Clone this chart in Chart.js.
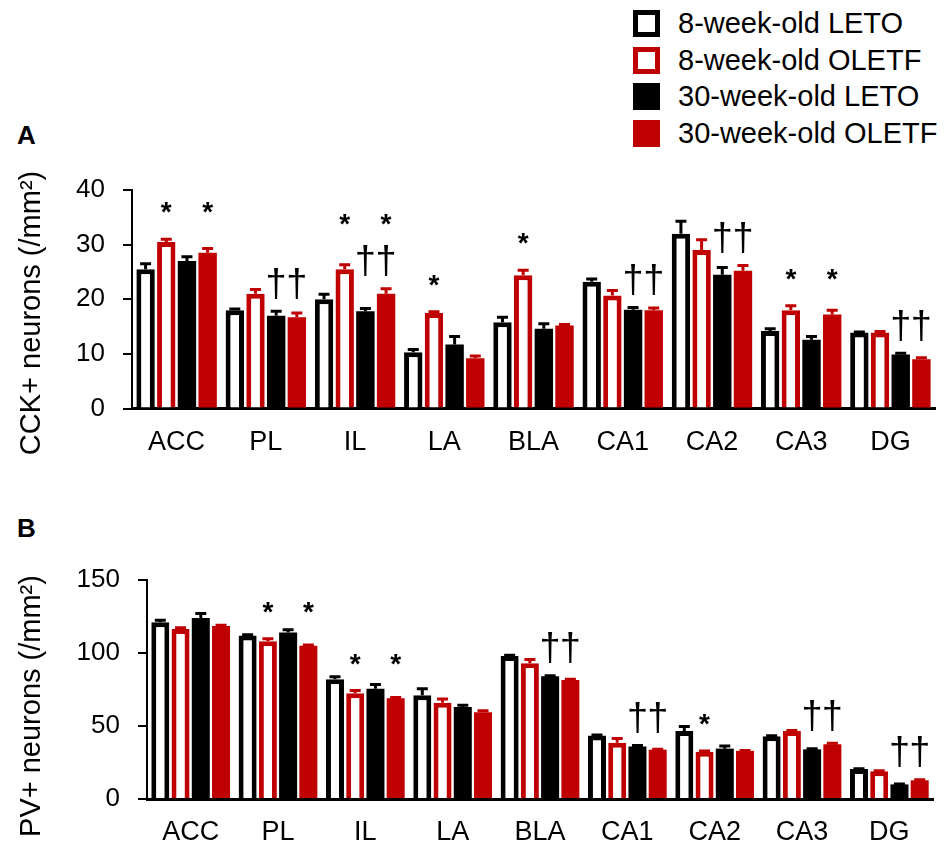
<!DOCTYPE html>
<html>
<head>
<meta charset="utf-8">
<title>CCK+ and PV+ neurons</title>
<script src="https://cdn.jsdelivr.net/npm/chart.js@4.4.0/dist/chart.umd.min.js"></script>
<style>
  body { margin: 0; width: 949px; height: 848px; overflow: hidden; background: #fff; position: relative;
         font-family: "Liberation Sans", Arial, sans-serif; color: #000; }
  #legend { position: absolute; left: 633px; top: 5px; }
  .item { display: flex; align-items: center; height: 36.7px; font-size: 29px; white-space: nowrap; }
  .box { width: 27px; height: 27px; box-sizing: border-box; margin-right: 18px; }
  .panel { position: absolute; left: 17px; font-weight: bold; font-size: 26px; line-height: 26px; }
  .wrap { position: absolute; left: 0; line-height: 0; }
</style>
</head>
<body>
<div id="legend"></div>
<div class="panel" style="top:122px">A</div>
<div class="panel" style="top:515px">B</div>
<div class="wrap" style="top:150px"><canvas id="chartA" width="949" height="320"></canvas></div>
<div class="wrap" style="top:530px"><canvas id="chartB" width="949" height="320"></canvas></div>
<script>
// regions and groups
const categories = ['ACC', 'PL', 'IL', 'LA', 'BLA', 'CA1', 'CA2', 'CA3', 'DG'];
const seriesNames = ['8-week-old LETO', '8-week-old OLETF', '30-week-old LETO', '30-week-old OLETF'];

// A: CCK+ neurons (/mm2), mean and SEM
const cckLeto8 = [25.5, 18, 20, 10.3, 15.8, 23.2, 32, 14.2, 13.9];
const cckOletf8 = [30.5, 21, 25.5, 17.5, 24.4, 20.7, 29, 18, 13.9];
const cckLeto30 = [27, 17, 17.8, 11.7, 14.6, 18.1, 24.5, 12.6, 9.9];
const cckOletf30 = [28.5, 16.7, 21, 9.2, 15.2, 18, 25.2, 17.2, 9.0];
const cckErrLeto8 = [1, 0.2, 0.9, 0.5, 0.9, 0.5, 2.3, 0.4, 0.1];
const cckErrOletf8 = [0.5, 0.8, 0.8, 0.2, 0.9, 0.9, 1.9, 0.8, 0.2];
const cckErrLeto30 = [0.8, 0.8, 0.5, 1.5, 0.9, 0.4, 1.3, 0.6, 0.2];
const cckErrOletf30 = [0.8, 0.8, 0.9, 0.4, 0.2, 0.4, 1.0, 0.8, 0.3];
const cckTicks = [0, 10, 20, 30, 40];
// significance marks per region, one string per group
const cckMarks = [
  ['', '*', '', '*'], ['', '', '†', '†'], ['', '*', '†', '*†'], ['', '*', '', ''], ['', '*', '', ''],
  ['', '', '†', '†'], ['', '', '†', '†'], ['', '*', '', '*'], ['', '', '†', '†']
];

// B: PV+ neurons (/mm2)
const pvLeto8 = [121, 112, 82, 71, 98, 43.5, 46.5, 43, 20.5];
const pvOletf8 = [116.5, 108, 72.5, 66, 93, 38.5, 32.3, 46.5, 19];
const pvLeto30 = [124, 114, 75.5, 63, 84, 36, 34.5, 34, 10];
const pvOletf30 = [118.5, 105, 69, 59.5, 81.5, 33.8, 33, 37.5, 12.8];
const pvErrLeto8 = [1.5, 0.5, 1.8, 4.5, 0.5, 0.3, 3.2, 0.3, 0.3];
const pvErrOletf8 = [0.8, 1.8, 1.8, 2.5, 2.5, 3, 0.5, 0.5, 0.3];
const pvErrLeto30 = [3, 2, 3, 1.2, 0.5, 0.7, 1.8, 0.5, 0.3];
const pvErrOletf30 = [0.5, 0.5, 0.5, 1, 0.5, 0.3, 0.3, 0.6, 0.3];
const pvTicks = [0, 50, 100, 150];
const pvMarks = [
  ['', '', '', ''], ['', '*', '', '*'], ['', '*', '', '*'], ['', '', '', ''], ['', '', '†', '†'],
  ['', '', '†', '†'], ['', '*', '', ''], ['', '', '†', '†'], ['', '', '†', '†']
];

const RED = '#c00000';
const FONT = '"Liberation Sans", Arial, sans-serif';
const styles = [
  { backgroundColor: '#fff', borderColor: '#000', borderWidth: 5 },
  { backgroundColor: '#fff', borderColor: RED, borderWidth: 5 },
  { backgroundColor: '#000', borderColor: '#000', borderWidth: 0 },
  { backgroundColor: RED, borderColor: RED, borderWidth: 0 }
];

// legend (html)
const legend = document.getElementById('legend');
seriesNames.forEach((name, i) => {
  const row = document.createElement('div');
  row.className = 'item';
  const box = document.createElement('span');
  box.className = 'box';
  box.style.background = styles[i].backgroundColor;
  box.style.border = '5px solid ' + styles[i].borderColor;
  row.appendChild(box);
  row.appendChild(document.createTextNode(name));
  legend.appendChild(row);
});

// upward error bars
const errorBars = {
  id: 'errorBars',
  afterDatasetsDraw(chart) {
    const ctx = chart.ctx, ys = chart.scales.y;
    chart.data.datasets.forEach((ds, i) => {
      chart.getDatasetMeta(i).data.forEach((bar, j) => {
        const top = ys.getPixelForValue(ds.data[j] + ds.errors[j]);
        ctx.save();
        ctx.strokeStyle = ds.borderColor;
        ctx.lineWidth = 3;
        ctx.beginPath();
        ctx.moveTo(bar.x, bar.y);
        ctx.lineTo(bar.x, top);
        ctx.moveTo(bar.x - 5.5, top);
        ctx.lineTo(bar.x + 5.5, top);
        ctx.stroke();
        ctx.restore();
      });
    });
  }
};

// * and † above bars
const sigMarks = {
  id: 'sigMarks',
  afterDatasetsDraw(chart, args, opts) {
    const ctx = chart.ctx, ys = chart.scales.y;
    const ds = chart.data.datasets;
    opts.marks.forEach((row, j) => {
      let dagY = null, starY = null;
      row.forEach((m, i) => {
        const top = ys.getPixelForValue(ds[i].data[j] + ds[i].errors[j]);
        if (m.includes('†')) dagY = Math.min(dagY === null ? Infinity : dagY, top - 26);
        if (m.includes('*')) starY = Math.min(starY === null ? Infinity : starY, top - 34);
      });
      if (dagY !== null && starY !== null) starY = Math.min(starY, dagY - 46);
      ctx.save();
      ctx.fillStyle = '#000';
      ctx.textAlign = 'center';
      row.forEach((m, i) => {
        const x = chart.getDatasetMeta(i).data[j].x;
        if (m.includes('†')) {
          ctx.font = '38px ' + FONT;
          ctx.textBaseline = 'middle';
          ctx.fillText('†', x, dagY);
        }
        if (m.includes('*')) {
          ctx.font = 'bold 28px ' + FONT;
          ctx.textBaseline = 'alphabetic';
          ctx.fillText('*', x, starY + 16);
        }
      });
      ctx.restore();
    });
  }
};

// rotated y title, placed a bit lower than the plot centre as in the figure
const sideTitle = {
  id: 'sideTitle',
  afterDraw(chart, args, opts) {
    const ctx = chart.ctx;
    ctx.save();
    ctx.translate(opts.x, opts.y);
    ctx.rotate(-Math.PI / 2);
    ctx.font = '29px ' + FONT;
    ctx.fillStyle = '#000';
    ctx.textAlign = 'center';
    ctx.textBaseline = 'middle';
    ctx.fillText(opts.text, 0, 0);
    ctx.restore();
  }
};

function makeChart(id, values, errors, marks, ticks, title, yWidth, padding, xPad) {
  new Chart(document.getElementById(id), {
    type: 'bar',
    data: {
      labels: categories,
      datasets: seriesNames.map((name, i) => Object.assign({
        label: name,
        data: values[i],
        errors: errors[i],
        categoryPercentage: 0.927,
        barPercentage: 0.89
      }, styles[i]))
    },
    options: {
      responsive: false,
      animation: false,
      devicePixelRatio: 1,
      layout: { padding: padding },
      plugins: {
        legend: { display: false },
        tooltip: { enabled: false },
        sigMarks: { marks: marks },
        sideTitle: title
      },
      scales: {
        x: {
          grid: { display: false, drawTicks: false },
          border: { display: true, color: '#000', width: 3 },
          ticks: { color: '#000', padding: xPad, font: { family: FONT, size: 27 } },
          afterFit: (s) => { s.height = 50; }
        },
        y: {
          min: ticks[0],
          max: ticks[ticks.length - 1],
          afterBuildTicks: (axis) => { axis.ticks = ticks.map(v => ({ value: v })); },
          grid: { drawOnChartArea: false, drawTicks: true, tickLength: 9, color: '#000', lineWidth: 2 },
          border: { display: true, color: '#000', width: 2 },
          ticks: { color: '#000', padding: 18, font: { family: FONT, size: 26 } },
          afterFit: (s) => { s.width = yWidth; }
        }
      }
    },
    plugins: [errorBars, sigMarks, sideTitle]
  });
}

makeChart('chartA',
  [cckLeto8, cckOletf8, cckLeto30, cckOletf30],
  [cckErrLeto8, cckErrOletf8, cckErrLeto30, cckErrOletf30],
  cckMarks, cckTicks, { text: 'CCK+ neurons (/mm²)', x: 32, y: 163 }, 121,
  { left: 11, top: 40, right: 14, bottom: 11.5 }, 18);

makeChart('chartB',
  [pvLeto8, pvOletf8, pvLeto30, pvOletf30],
  [pvErrLeto8, pvErrOletf8, pvErrLeto30, pvErrOletf30],
  pvMarks, pvTicks, { text: 'PV+ neurons (/mm²)', x: 32, y: 176 }, 136,
  { left: 11, top: 50, right: 16, bottom: 1 }, 17);
</script>
</body>
</html>
